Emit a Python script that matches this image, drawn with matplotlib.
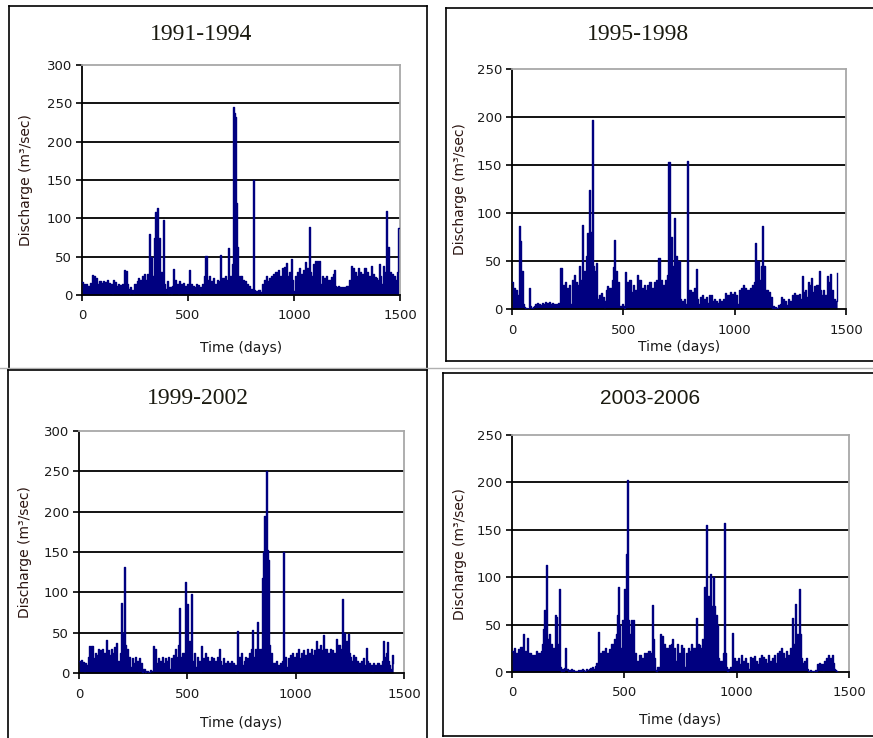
import numpy as np
import matplotlib
matplotlib.use("Agg")
import matplotlib.pyplot as plt
from matplotlib.lines import Line2D

# ---------------- data (values every 5 days) ----------------
step_days = 5

q_1991_1994 = [
    17, 6, 15, 10, 14, 4, 12, 8, 16, 5, 26, 10, 25, 6, 22, 14, 8, 18, 4, 16,
    18, 6, 17, 12, 19, 5, 16, 10, 14, 3, 20, 8, 17, 12, 15, 4, 13, 9, 14, 6,
    32, 10, 31, 14, 8, 3, 10, 5, 7, 2, 15, 6, 18, 22, 10, 20, 16, 25, 12, 28,
    20, 8, 28, 15, 80, 35, 50, 25, 75, 108, 45, 113, 70, 74, 20, 30, 12, 98, 15, 8,
    5, 18, 3, 10, 2, 12, 34, 8, 20, 6, 15, 3, 18, 9, 14, 5, 16, 8, 12, 6,
    15, 32, 8, 14, 5, 12, 10, 4, 15, 6, 13, 3, 10, 8, 14, 5, 25, 51, 10, 20,
    25, 8, 18, 12, 22, 6, 15, 10, 20, 5, 18, 52, 12, 22, 8, 25, 20, 15, 61, 18,
    25, 10, 40, 245, 238, 232, 120, 63, 25, 15, 25, 12, 20, 10, 18, 6, 14, 8, 12, 5,
    8, 5, 150, 6, 4, 5, 3, 6, 4, 2, 15, 5, 20, 10, 25, 8, 18, 22, 12, 25,
    18, 28, 10, 30, 15, 32, 20, 25, 12, 35, 20, 37, 15, 42, 25, 10, 30, 18, 47, 20,
    5, 25, 15, 30, 22, 35, 10, 28, 20, 32, 25, 43, 20, 35, 15, 89, 30, 25, 40, 20,
    45, 38, 45, 25, 44, 15, 5, 25, 18, 22, 10, 25, 15, 20, 8, 24, 18, 28, 33, 12,
    10, 5, 12, 8, 10, 6, 11, 4, 10, 7, 12, 5, 20, 10, 38, 18, 35, 25, 30, 15,
    25, 35, 20, 30, 15, 28, 22, 35, 12, 30, 20, 25, 15, 38, 20, 28, 10, 24, 22, 15,
    20, 40, 25, 15, 38, 30, 20, 110, 40, 63, 25, 30, 5, 28, 22, 25, 20, 2, 30, 87,
]

q_1995_1998 = [
    28, 12, 22, 8, 20, 5, 15, 86, 71, 40, 5, 2, 0, 1, 0, 0, 22, 3, 1, 2,
    3, 5, 2, 6, 3, 5, 4, 6, 5, 3, 7, 5, 6, 4, 7, 5, 6, 4, 5, 3,
    5, 4, 6, 3, 43, 15, 25, 10, 28, 12, 22, 8, 25, 5, 30, 18, 35, 12, 28, 20,
    25, 45, 30, 87, 20, 40, 15, 55, 79, 35, 124, 80, 197, 45, 40, 15, 48, 10, 5, 15,
    17, 5, 12, 2, 8, 20, 24, 10, 22, 15, 30, 44, 72, 27, 40, 15, 28, 3, 2, 5,
    3, 1, 39, 20, 28, 10, 30, 18, 15, 25, 10, 20, 15, 35, 20, 30, 18, 22, 10, 25,
    20, 8, 25, 12, 28, 15, 22, 10, 28, 5, 30, 18, 53, 15, 30, 20, 25, 12, 30, 18,
    35, 153, 40, 75, 30, 45, 95, 35, 55, 20, 50, 10, 5, 8, 2, 10, 5, 3, 154, 20,
    20, 5, 18, 10, 22, 6, 42, 10, 5, 12, 3, 15, 8, 10, 5, 12, 6, 15, 8, 15,
    8, 5, 10, 3, 8, 6, 10, 4, 8, 5, 10, 6, 17, 8, 15, 10, 18, 6, 16, 10,
    18, 8, 15, 5, 20, 10, 22, 12, 25, 8, 22, 15, 20, 10, 22, 12, 25, 15, 28, 69,
    40, 50, 25, 30, 45, 86, 30, 45, 15, 20, 10, 18, 5, 12, 0, 3, 0, 2, 1, 4,
    2, 5, 12, 3, 10, 5, 8, 4, 10, 6, 8, 3, 15, 6, 17, 10, 15, 8, 16, 5,
    10, 34, 18, 5, 20, 12, 28, 10, 25, 32, 18, 12, 24, 15, 25, 12, 40, 20, 15, 10,
    20, 8, 15, 34, 20, 28, 36, 15, 20, 5, 10, 8, 38,
]

q_1999_2002 = [
    15, 5, 16, 8, 14, 3, 12, 6, 10, 20, 33, 15, 33, 8, 18, 25, 12, 22, 30, 15,
    28, 12, 30, 15, 25, 41, 20, 28, 15, 22, 30, 25, 18, 32, 20, 37, 15, 10, 25, 87,
    50, 20, 132, 35, 20, 30, 15, 20, 8, 18, 5, 12, 20, 6, 15, 3, 18, 8, 12, 0,
    5, 0, 3, 2, 0, 1, 4, 2, 3, 33, 20, 30, 12, 18, 8, 15, 5, 20, 10, 12,
    18, 8, 15, 20, 5, 18, 12, 22, 15, 30, 20, 10, 35, 80, 20, 15, 25, 10, 113, 30,
    85, 10, 40, 20, 98, 15, 5, 25, 8, 20, 10, 15, 3, 33, 5, 18, 12, 25, 8, 20,
    15, 10, 20, 8, 18, 5, 15, 12, 20, 6, 30, 15, 10, 18, 8, 12, 5, 15, 10, 12,
    8, 15, 5, 12, 10, 3, 52, 15, 20, 8, 25, 10, 5, 15, 20, 12, 18, 25, 10, 30,
    53, 20, 15, 30, 20, 63, 30, 25, 30, 118, 150, 195, 120, 250, 153, 140, 35, 15, 25, 10,
    12, 5, 15, 8, 10, 3, 12, 6, 15, 150, 10, 20, 8, 18, 12, 22, 10, 25, 15, 20,
    10, 25, 15, 30, 18, 25, 12, 28, 20, 22, 15, 30, 20, 25, 18, 30, 22, 28, 20, 40,
    20, 30, 25, 35, 15, 28, 47, 20, 30, 22, 25, 15, 30, 20, 28, 18, 25, 12, 42, 30,
    35, 20, 30, 92, 25, 50, 30, 40, 20, 48, 25, 20, 15, 22, 10, 20, 5, 15, 3, 12,
    8, 15, 5, 18, 10, 31, 15, 8, 12, 5, 10, 3, 12, 6, 10, 8, 12, 5, 10, 6,
    15, 40, 20, 10, 25, 38, 15, 10, 5, 22, 12,
]

q_2003_2006 = [
    22, 5, 25, 8, 20, 6, 24, 10, 26, 5, 40, 12, 22, 8, 36, 15, 20, 10, 18, 12,
    18, 10, 22, 12, 20, 15, 22, 30, 45, 65, 40, 113, 35, 40, 20, 30, 10, 25, 5, 60,
    58, 30, 88, 5, 0, 3, 1, 4, 25, 3, 0, 2, 1, 3, 0, 2, 0, 1, 0, 2,
    0, 2, 1, 3, 2, 1, 3, 2, 2, 3, 4, 2, 5, 3, 6, 10, 8, 42, 12, 20,
    10, 22, 15, 25, 12, 20, 18, 24, 15, 30, 20, 35, 30, 40, 60, 90, 50, 25, 55, 30,
    88, 60, 124, 203, 55, 40, 55, 30, 55, 15, 20, 5, 12, 8, 18, 5, 15, 10, 20, 5,
    20, 8, 22, 5, 20, 71, 35, 15, 2, 0, 5, 3, 40, 20, 38, 25, 30, 12, 25, 15,
    28, 15, 30, 35, 20, 25, 12, 30, 8, 20, 15, 28, 10, 25, 5, 20, 12, 25, 8, 22,
    30, 12, 25, 20, 57, 20, 30, 28, 25, 20, 35, 90, 40, 155, 60, 80, 50, 103, 70, 100,
    70, 55, 60, 50, 15, 5, 12, 8, 20, 157, 20, 5, 0, 3, 2, 5, 41, 8, 15, 5,
    12, 5, 15, 8, 18, 3, 12, 6, 15, 5, 10, 3, 16, 8, 15, 6, 17, 5, 12, 8,
    15, 10, 18, 8, 16, 6, 14, 10, 18, 6, 12, 8, 15, 5, 18, 10, 20, 12, 22, 8,
    25, 10, 20, 15, 22, 12, 18, 10, 25, 20, 57, 30, 72, 20, 40, 25, 88, 40, 15, 10,
    12, 5, 15, 3, 1, 0, 2, 0, 1, 0, 2, 0, 8, 3, 10, 5, 8, 2, 12, 5,
    15, 6, 18, 8, 15, 18, 10, 3, 2, 1,
]

titles = ["1991-1994", "1995-1998", "1999-2002", "2003-2006"]
series = [q_1991_1994, q_1995_1998, q_1999_2002, q_2003_2006]
y_max = [300, 250, 300, 250]
x_ticks = [0, 500, 1000, 1500]
y_label = "Discharge (m\u00b3/sec)"
x_label = "Time (days)"

# ---------------- layout (pixel geometry of the reference) ----------------
W, H = 873, 738
fig = plt.figure(figsize=(W / 100, H / 100), dpi=100)
fig.patch.set_facecolor("white")

def fx(px):
    return px / W

def fy(py):
    return 1 - py / H

boxes = [(82, 65, 400, 295), (512, 69, 846, 309), (79, 431, 404, 673), (512, 435, 849, 672)]
title_pos = [(201, 34), (638, 34), (198, 398), (650, 398)]
title_fam = ["Liberation Serif", "Liberation Serif", "Liberation Serif", "Liberation Sans"]
title_size = [17, 17, 17, 15]
ylab_pos = [(26, 180), (460, 189), (25, 552), (460, 554)]
xlab_pos = [(241, 348), (679, 347), (241, 723), (680, 720)]
xtick_pad = [6, 7, 7, 6]

navy = "#000080"
txt = "#1a1a1a"

for i in range(4):
    l, t, r, b = boxes[i]
    ax = fig.add_axes([fx(l), fy(b), fx(r) - fx(l), fy(t) - fy(b)])
    q = series[i]
    days = np.arange(len(q)) * step_days
    ax.fill_between(days, q, step="mid", color=navy, lw=0, zorder=2)
    ax.plot(days, q, drawstyle="steps-mid", color=navy, lw=1.0, zorder=3)
    ax.set_xlim(0, 1500)
    ax.set_ylim(0, y_max[i])
    ax.set_xticks(x_ticks)
    ax.set_yticks(np.arange(0, y_max[i] + 1, 50))
    for yv in np.arange(50, y_max[i], 50):
        ax.axhline(yv, color="black", lw=1.3, zorder=1)
    for side in ["top", "right"]:
        ax.spines[side].set_color("#a8a8a8")
        ax.spines[side].set_linewidth(1.3)
    for side in ["left", "bottom"]:
        ax.spines[side].set_color("black")
        ax.spines[side].set_linewidth(1.3)
    ax.tick_params(direction="out", length=4, width=1.2, colors="black",
                   labelsize=9.5, labelcolor=txt)
    ax.tick_params(axis="x", pad=xtick_pad[i])
    ax.tick_params(axis="y", pad=3)
    ax.set_facecolor("white")

    tx, ty = title_pos[i]
    fig.text(fx(tx), fy(ty), titles[i], ha="center", va="center",
             fontsize=title_size[i], family=title_fam[i], color="#1a1a10")
    lx, ly = ylab_pos[i]
    fig.text(fx(lx), fy(ly), y_label, ha="center", va="center", rotation=90,
             fontsize=10, color="#2a1410")
    xx, xy = xlab_pos[i]
    fig.text(fx(xx), fy(xy), x_label, ha="center", va="center",
             fontsize=10, color=txt)

# ---------------- panel frames ----------------
def seg(x0, y0, x1, y1, color="black", lw=1.2):
    fig.add_artist(Line2D([fx(x0), fx(x1)], [fy(y0), fy(y1)], color=color, lw=lw))

seg(9, 6, 427, 6); seg(9, 6, 9, 368); seg(427, 6, 427, 368)
seg(446, 8, 873, 8); seg(446, 8, 446, 361); seg(446, 361, 873, 361)
seg(0, 368, 873, 368, color="#b0b0b0", lw=1.0)
seg(8, 370, 427, 370); seg(8, 370, 8, 738); seg(427, 370, 427, 738)
seg(443, 373, 873, 373); seg(443, 373, 443, 736); seg(443, 736, 873, 736)

fig.savefig("out.png", dpi=100, facecolor="white")
